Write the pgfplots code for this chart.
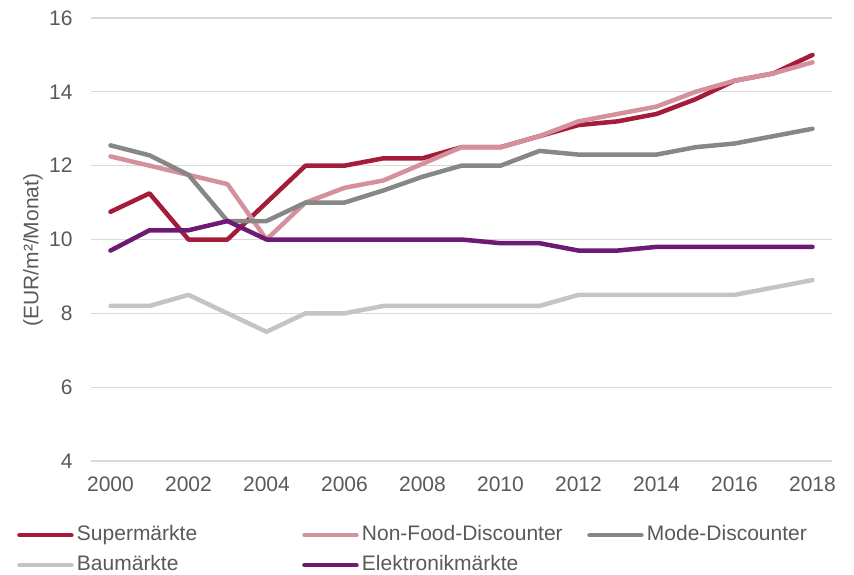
\documentclass[border=0pt]{standalone}
\usepackage{fontspec}
\setmainfont{Liberation Sans}
\usepackage{pgfplots}
\pgfplotsset{compat=1.18}
\definecolor{csuper}{HTML}{A51C3A}
\definecolor{cnonfood}{HTML}{D4919B}
\definecolor{cmode}{HTML}{878787}
\definecolor{cbau}{HTML}{C4C4C4}
\definecolor{celek}{HTML}{6E1A74}
\definecolor{cgrid}{HTML}{D9D9D9}
\definecolor{ctext}{HTML}{595959}
\begin{document}
\begin{tikzpicture}[x=1pt,y=1pt]
\useasboundingbox (0,0) rectangle (854,574);
\begin{axis}[
  at={(91pt,113pt)}, anchor=south west,
  width=741pt, height=443pt, scale only axis,
  xmin=1999.5, xmax=2018.5, ymin=4, ymax=16,
  xtick={2000,2002,...,2018}, ytick={4,6,...,16},
  /pgf/number format/assume math mode=true,
  /pgf/number format/1000 sep={},
  axis line style={draw=none},
  major tick style={draw=none},
  ymajorgrids, major grid style={cgrid, line width=1.3pt},
  tick label style={font=\fontsize{21}{25}\selectfont, text=ctext},
  yticklabel style={anchor=east, xshift=-15pt},
  xticklabel style={anchor=north, yshift=-12.5pt},
  ylabel={(EUR/m²/Monat)},
  every axis y label/.style={at={(axis description cs:-0.0783,0.476)}, rotate=90, anchor=center, font=\fontsize{21}{25}\selectfont, text=ctext},
  clip=false,
  every axis plot/.append style={line width=4.5pt, line cap=round, line join=round},
  legend columns=3,
  legend style={at={(axis description cs:-0.0999,-0.145)}, anchor=north west, draw=none, fill=none,
    inner sep=0pt, outer sep=0pt, column sep=0pt, row sep=10pt,
    nodes={inner sep=0pt, text height=15pt, text depth=5pt, text=ctext},
    font=\fontsize{21}{25}\selectfont},
  legend cell align=left,
  legend image code/.code={\path[draw=none,fill=none] (0pt,-3pt) rectangle (60pt,3pt); \draw[#1, line width=4.5pt, line cap=round] (2.5pt,0pt) -- (54.5pt,0pt);},
]
\addplot[csuper] coordinates {(2000,10.75)(2001,11.25)(2002,10)(2003,10)(2004,11)(2005,12)(2006,12)(2007,12.2)(2008,12.2)(2009,12.5)(2010,12.5)(2011,12.8)(2012,13.1)(2013,13.2)(2014,13.4)(2015,13.8)(2016,14.3)(2017,14.5)(2018,15.0)};
\addlegendentry{\makebox[225pt][l]{Supermärkte}}
\addplot[cnonfood] coordinates {(2000,12.25)(2001,12.0)(2002,11.75)(2003,11.5)(2004,10.0)(2005,11.0)(2006,11.4)(2007,11.6)(2008,12.05)(2009,12.5)(2010,12.5)(2011,12.8)(2012,13.2)(2013,13.4)(2014,13.6)(2015,14.0)(2016,14.3)(2017,14.5)(2018,14.8)};
\addlegendentry{\makebox[225pt][l]{Non-Food-Discounter}}
\addplot[cmode] coordinates {(2000,12.55)(2001,12.28)(2002,11.75)(2003,10.5)(2004,10.5)(2005,11.0)(2006,11.0)(2007,11.33)(2008,11.7)(2009,12.0)(2010,12.0)(2011,12.4)(2012,12.3)(2013,12.3)(2014,12.3)(2015,12.5)(2016,12.6)(2017,12.8)(2018,13.0)};
\addlegendentry{Mode-Discounter}
\addplot[cbau] coordinates {(2000,8.2)(2001,8.2)(2002,8.5)(2003,8.0)(2004,7.5)(2005,8.0)(2006,8.0)(2007,8.2)(2008,8.2)(2009,8.2)(2010,8.2)(2011,8.2)(2012,8.5)(2013,8.5)(2014,8.5)(2015,8.5)(2016,8.5)(2017,8.7)(2018,8.9)};
\addlegendentry{\makebox[225pt][l]{Baumärkte}}
\addplot[celek] coordinates {(2000,9.7)(2001,10.25)(2002,10.25)(2003,10.5)(2004,10.0)(2005,10.0)(2006,10.0)(2007,10.0)(2008,10.0)(2009,10.0)(2010,9.9)(2011,9.9)(2012,9.7)(2013,9.7)(2014,9.8)(2015,9.8)(2016,9.8)(2017,9.8)(2018,9.8)};
\addlegendentry{\makebox[225pt][l]{Elektronikmärkte}}
\end{axis}
\end{tikzpicture}
\end{document}
